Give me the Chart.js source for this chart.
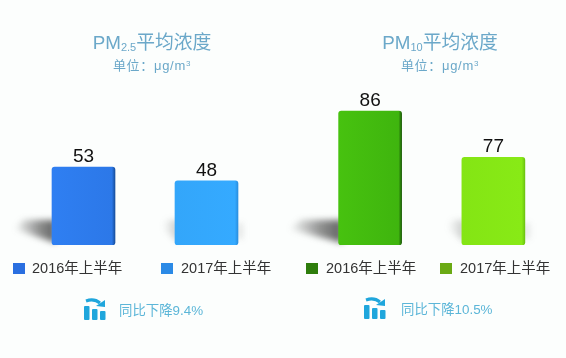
<!DOCTYPE html>
<html>
<head>
<meta charset="utf-8">
<script src="https://cdn.jsdelivr.net/npm/chart.js@4"></script>
<style>
    html, body { margin: 0; padding: 0; background: #fcfefd; }
    #page { position: relative; width: 566px; height: 358px; overflow: hidden; font-family: "Liberation Sans", "Noto Sans CJK SC", sans-serif; }
    canvas { position: absolute; left: 0; top: 0; }
    .t { position: absolute; white-space: nowrap; line-height: 1; }
    .title { font-size: 18.8px; color: #6ba8c9; transform: translateX(-50%); }
    .title sub { font-size: 11px; vertical-align: baseline; position: relative; top: 2px; }
    .unit { font-size: 13px; letter-spacing: 0.7px; color: #6ba8c9; transform: translateX(-50%); }
    .unit sup { font-size: 8px; vertical-align: baseline; position: relative; top: -4px; }
    .legend { font-size: 14.5px; color: #333; }
    .swatch { position: absolute; width: 12px; height: 11px; }
    .drop { font-size: 13.4px; color: #5cb6d8; }
    svg { position: absolute; }
</style>
</head>
<body>
<div id="page">
    <canvas id="pm25Chart" width="566" height="358"></canvas>
    <canvas id="pm10Chart" width="566" height="358"></canvas>

    <div class="t title" style="left:152px;top:34px">PM<sub>2.5</sub>平均浓度</div>
    <div class="t unit" style="left:152px;top:59px">单位：μg/m<sup>3</sup></div>
    <div class="t title" style="left:440px;top:34px">PM<sub>10</sub>平均浓度</div>
    <div class="t unit" style="left:440px;top:59px">单位：μg/m<sup>3</sup></div>

    <div class="swatch" style="left:13px;top:263px;background:#2a6fe0"></div>
    <div class="t legend" style="left:32px;top:261px" id="leg0"></div>
    <div class="swatch" style="left:161px;top:263px;background:#2b8ae6"></div>
    <div class="t legend" style="left:181px;top:261px" id="leg1"></div>
    <div class="swatch" style="left:306px;top:263px;background:#2e7d0c"></div>
    <div class="t legend" style="left:326px;top:261px" id="leg2"></div>
    <div class="swatch" style="left:440px;top:263px;background:#6aaa14"></div>
    <div class="t legend" style="left:460px;top:261px" id="leg3"></div>

    <svg style="left:84px;top:298px" width="22" height="23" viewBox="0 0 22 23">
        <rect x="0" y="8" width="5.5" height="14" rx="1" fill="#1fa6dc"/>
        <rect x="8" y="11" width="5.5" height="11" rx="1" fill="#1fa6dc"/>
        <rect x="16" y="13" width="5.5" height="9" rx="1" fill="#1fa6dc"/>
        <path d="M2 3 Q10 0 16 5" stroke="#1fa6dc" stroke-width="3" fill="none"/>
        <path d="M12 8 L21 2 L21 9 Z" fill="#1fa6dc"/>
    </svg>
    <div class="t drop" style="left:119px;top:304px" id="drop0"></div>
    <svg style="left:364px;top:297px" width="22" height="23" viewBox="0 0 22 23">
        <rect x="0" y="8" width="5.5" height="14" rx="1" fill="#1fa6dc"/>
        <rect x="8" y="11" width="5.5" height="11" rx="1" fill="#1fa6dc"/>
        <rect x="16" y="13" width="5.5" height="9" rx="1" fill="#1fa6dc"/>
        <path d="M2 3 Q10 0 16 5" stroke="#1fa6dc" stroke-width="3" fill="none"/>
        <path d="M12 8 L21 2 L21 9 Z" fill="#1fa6dc"/>
    </svg>
    <div class="t drop" style="left:401px;top:303px" id="drop1"></div>
</div>

<script>
// Data
const periods = ['2016年上半年', '2017年上半年'];
const pm25Values = [53, 48];
const pm10Values = [86, 77];
const dropLabels = ['同比下降9.4%', '同比下降10.5%'];

// The original bars are not drawn from zero, so each panel has its own range
const pm25Range = [25, 91.4];
const pm10Range = [60, 95.9];

const pm25Colors = [['#2f7ff2', '#2c78e8', '#174f9e'], ['#33a6fa', '#35aaff', '#2a8fe0']];
const pm10Colors = [['#47c20f', '#3fb50e', '#1d5f08'], ['#84e514', '#88ea16', '#6cc410']];
const pm25ShadowSizes = [38, 12];
const pm10ShadowSizes = [50, 14];

document.getElementById('leg0').textContent = periods[0];
document.getElementById('leg1').textContent = periods[1];
document.getElementById('leg2').textContent = periods[0];
document.getElementById('leg3').textContent = periods[1];
document.getElementById('drop0').textContent = dropLabels[0];
document.getElementById('drop1').textContent = dropLabels[1];

// Soft shadow to the left of each bar and the value above it
const barDecor = {
    id: 'barDecor',
    beforeDatasetsDraw(chart, args, opts) {
        const ctx = chart.ctx;
        chart.getDatasetMeta(0).data.forEach((bar, i) => {
            const left = bar.x - bar.width / 2;
            const size = opts.shadows[i];
            const big = size > 20;
            const grad = ctx.createLinearGradient(left - size, 0, left + 4, 0);
            grad.addColorStop(0, 'rgba(70,70,70,0)');
            grad.addColorStop(0.6, big ? 'rgba(70,70,70,0.6)' : 'rgba(90,90,90,0.2)');
            grad.addColorStop(1, big ? 'rgba(70,70,70,0.85)' : 'rgba(90,90,90,0.35)');
            ctx.save();
            ctx.filter = 'blur(3px)';
            ctx.fillStyle = grad;
            ctx.beginPath();
            ctx.moveTo(left + 4, bar.base - 25);
            ctx.lineTo(left - size * 0.75, bar.base - 25);
            ctx.lineTo(left - size, bar.base - 16);
            ctx.lineTo(left + 4, bar.base - 2);
            ctx.closePath();
            ctx.fill();
            if (!big) {
                // faint glow on the right side of the lighter bars
                ctx.fillStyle = 'rgba(90,90,90,0.14)';
                ctx.fillRect(left + bar.width - 2, bar.base - 22, 7, 16);
            }
            ctx.restore();
        });
    },
    afterDatasetsDraw(chart) {
        const ctx = chart.ctx;
        const values = chart.data.datasets[0].data;
        ctx.save();
        ctx.font = '19px "Liberation Sans", sans-serif';
        ctx.fillStyle = '#111';
        ctx.textAlign = 'center';
        ctx.textBaseline = 'alphabetic';
        chart.getDatasetMeta(0).data.forEach((bar, i) => {
            ctx.fillText(values[i], bar.x, bar.y - 5);
        });
        ctx.restore();
    }
};

function barFill(colors) {
    return function(context) {
        const chart = context.chart;
        if (!chart.chartArea || context.dataIndex === undefined) return colors[0][0];
        const c = colors[context.dataIndex];
        const xPix = chart.scales.x.getPixelForValue(context.dataIndex);
        const grad = chart.ctx.createLinearGradient(xPix - 31.5, 0, xPix + 31.5, 0);
        grad.addColorStop(0, c[0]);
        grad.addColorStop(0.95, c[1]);
        grad.addColorStop(1, c[2]);
        return grad;
    };
}

function makePanel(canvasId, values, range, colors, shadows, padLeft, padRight) {
    return new Chart(document.getElementById(canvasId).getContext('2d'), {
        type: 'bar',
        data: {
            labels: periods,
            datasets: [{
                data: values,
                base: range[0],
                backgroundColor: barFill(colors),
                barThickness: 63,
                borderRadius: 3,
                borderSkipped: false
            }]
        },
        options: {
            responsive: false,
            animation: false,
            layout: { padding: { left: padLeft, right: padRight, top: 60, bottom: 113 } },
            scales: {
                x: { display: false },
                y: { display: false, min: range[0], max: range[1] }
            },
            plugins: {
                legend: { display: false },
                tooltip: { enabled: false },
                barDecor: { shadows: shadows }
            }
        },
        plugins: [barDecor]
    });
}

makePanel('pm25Chart', pm25Values, pm25Range, pm25Colors, pm25ShadowSizes, 22, 298);
makePanel('pm10Chart', pm10Values, pm10Range, pm10Colors, pm10ShadowSizes, 308.5, 11);
</script>
</body>
</html>
